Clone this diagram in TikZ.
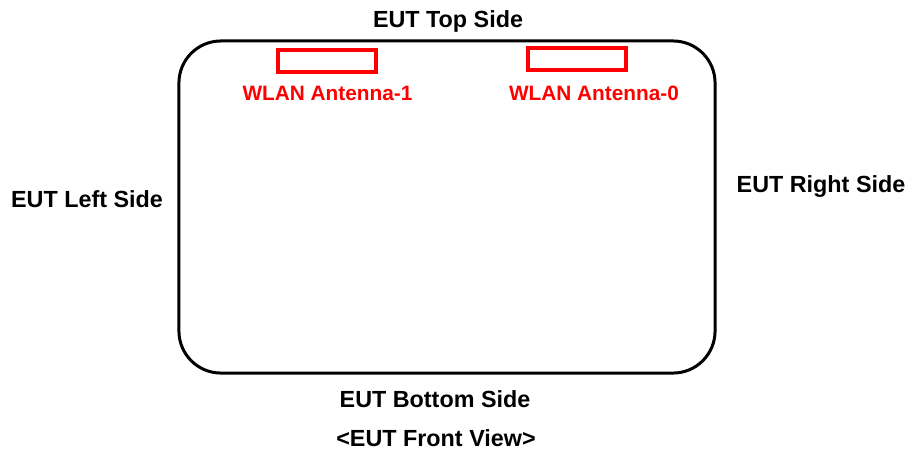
\documentclass[tikz,border=0pt]{standalone}
\usepackage{fontspec}
\setmainfont{Liberation Sans}
\usetikzlibrary{positioning}

\begin{document}
\begin{tikzpicture}[%
    x=0.025cm,
    y=-0.025cm,
    side/.style={font=\fontsize{16.6}{19}\selectfont\bfseries},
    antlabel/.style={font=\fontsize{14.8}{17}\selectfont\bfseries, text=red},
    antenna/.style={draw=red, line width=0.08cm, minimum width=2.45cm,
        minimum height=0.55cm, inner sep=0pt},
    body/.style={draw, line width=0.075cm, rounded corners=1.05cm,
        minimum width=13.4cm, minimum height=8.3cm, inner sep=0pt}
    ]

    \useasboundingbox (0,0) rectangle (912,450);

    \node[body] (eut) at (447,207) {};

    \node[antenna] (ant1) at (327,61) {};
    \node[antenna] (ant0) at (577,59) {};
    \node[antlabel] (lbl1) at (327.5,93) {WLAN Antenna-1};
    \node[antlabel] (lbl0) at (594,93) {WLAN Antenna-0};

    \node[side] (top) at (448,21) {EUT Top Side};
    \node[side] (left) at (87,199) {EUT Left Side};
    \node[side] (right) at (821,187) {EUT Right Side};
    \node[side] (bottom) at (435,399) {EUT Bottom Side};
    \node[side] (view) at (436,438) {<EUT Front View>};

\end{tikzpicture}
\end{document}
